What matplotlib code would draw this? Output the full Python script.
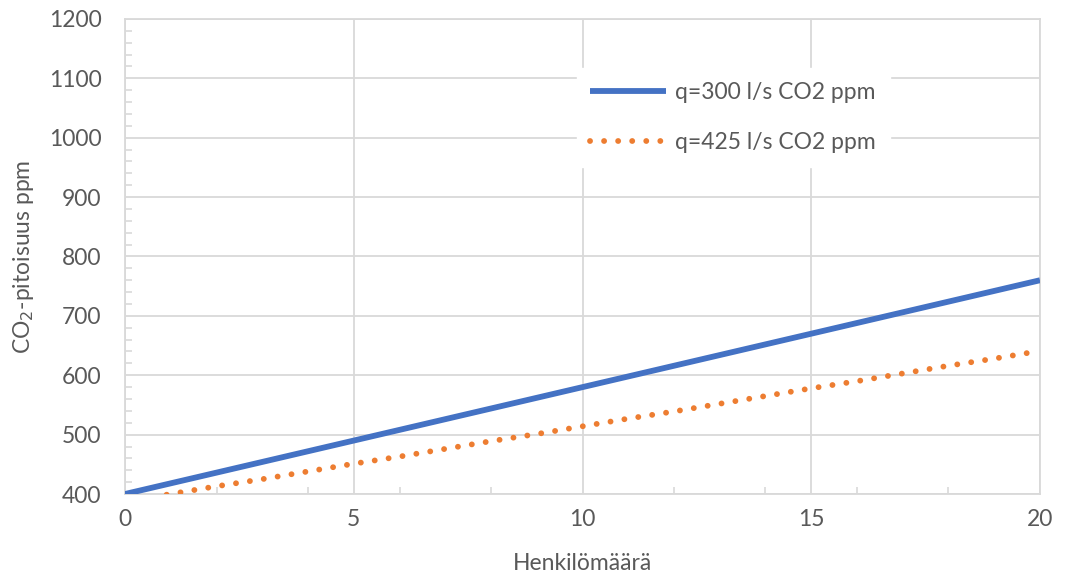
import matplotlib
matplotlib.use('Agg')
import matplotlib.pyplot as plt
from matplotlib.ticker import MultipleLocator

plt.rcParams['font.family'] = ['Lato', 'DejaVu Sans']

# persons in the room
persons = list(range(0, 21))
# CO2 concentration (ppm) for the two ventilation rates
co2_q300 = [400, 418, 436, 454, 472, 490, 508, 526, 544, 562, 580,
            598, 616, 634, 652, 670, 688, 706, 724, 742, 760]
co2_q425 = [387, 400, 413, 425, 438, 451, 463, 476, 489, 501, 514,
            527, 539, 552, 565, 578, 590, 603, 616, 628, 641]
labels = ['q=300 l/s CO2 ppm', 'q=425 l/s CO2 ppm']

TXT = '#595959'
GRID = '#D9D9D9'
FS = 16.5

fig = plt.figure(figsize=(10.65, 5.79), dpi=100)
ax = fig.add_axes([0.1174, 0.1468, 0.8591, 0.8204])

ax.plot(persons, co2_q300, '-', color='#4472C4', lw=4.2,
        solid_capstyle='butt', label=labels[0], zorder=3)
ax.plot(persons, co2_q425, color='#ED7D31', lw=4.2,
        linestyle=(0, (0.01, 2.4)), dash_capstyle='round',
        label=labels[1], zorder=3)

ax.set_xlim(0, 20)
ax.set_ylim(400, 1200)
ax.xaxis.set_major_locator(MultipleLocator(5))
ax.yaxis.set_major_locator(MultipleLocator(100))
ax.xaxis.set_minor_locator(MultipleLocator(2))
ax.yaxis.set_minor_locator(MultipleLocator(20))

ax.grid(True, which='major', color=GRID, lw=1.3)
ax.set_axisbelow(True)
for s in ax.spines.values():
    s.set_color(GRID)
    s.set_linewidth(1.3)

ax.tick_params(which='major', length=0, labelsize=FS, labelcolor=TXT)
ax.tick_params(axis='y', which='major', pad=17)
ax.tick_params(axis='x', which='major', pad=11)
ax.tick_params(which='minor', direction='in', length=5, color=GRID, width=1.2)

ax.set_xlabel('Henkilömäärä', fontsize=FS, color=TXT, labelpad=16)
ax.set_ylabel('CO$_2$-pitoisuus ppm', fontsize=FS, color=TXT, labelpad=9)

leg = ax.legend(loc='upper left', bbox_to_anchor=(0.481, 0.92),
                fontsize=FS, frameon=True, framealpha=1, edgecolor='white',
                fancybox=False, handlelength=3.3, handletextpad=0.4,
                labelspacing=1.25, borderpad=0.6)
for t in leg.get_texts():
    t.set_color(TXT)

fig.savefig('out.png', dpi=100)
